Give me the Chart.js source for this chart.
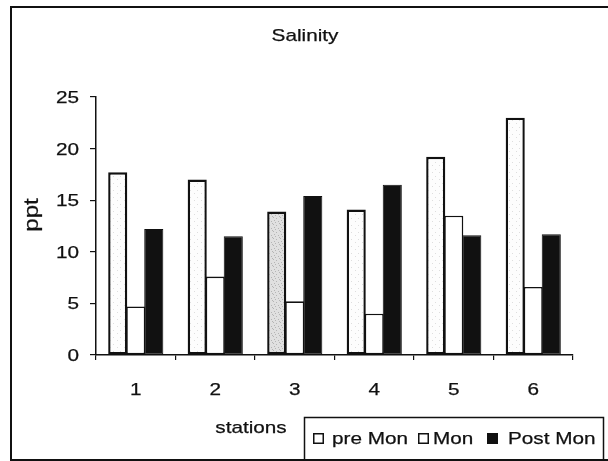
<!DOCTYPE html>
<html>
<head>
<meta charset="utf-8">
<script src="https://cdn.jsdelivr.net/npm/chart.js@4/dist/chart.umd.min.js"></script>
<style>
  html, body { margin: 0; padding: 0; background: #fff; }
  #wrap { width: 608px; height: 461px; position: relative; }
</style>
</head>
<body>
<div id="wrap"><canvas id="c" width="608" height="461"></canvas></div>
<script>
// Salinity (ppt) per station, three seasons
const stations = ['1', '2', '3', '4', '5', '6'];
const seriesNames = ['pre Mon', 'Mon', 'Post Mon'];
const preMon = [17.7, 17.0, 13.9, 14.1, 19.2, 23.0];
const mon = [4.7, 7.6, 5.2, 4.0, 13.5, 6.6];
const postMon = [12.2, 11.5, 15.4, 16.5, 11.6, 11.7];
const chartTitle = 'Salinity';
const xTitle = 'stations';
const yTitle = 'ppt';

const FACE = '"Liberation Sans", Arial, sans-serif';
const FONT = '17px ' + FACE;
const STRETCH = 1.22;
const INK = '#111';

// Speckled fills for the pre-monsoon bars
function speckle(bg, dot, dots) {
  const p = document.createElement('canvas');
  p.width = 7; p.height = 7;
  const g = p.getContext('2d');
  g.fillStyle = bg; g.fillRect(0, 0, 7, 7);
  g.fillStyle = dot;
  dots.forEach(([x, y]) => g.fillRect(x, y, 1, 1));
  return g.createPattern(p, 'repeat');
}
const lightFill = speckle('#fdfdfd', '#dedede', [[1, 1], [5, 4]]);
const greyFill = speckle('#e0e0e0', '#b5b5b5', [[0, 0], [3, 1], [1, 3], [5, 4], [2, 5], [6, 6]]);
const preFills = stations.map((s, i) => (i === 2 ? greyFill : lightFill));

// text drawn slightly wide and with a faint outline, like the printed labels
function stretchedText(ctx, text, x, y, align, font, sx, rot) {
  ctx.save();
  ctx.translate(x, y);
  if (rot) ctx.rotate(rot);
  ctx.scale(sx || STRETCH, 1);
  ctx.font = font || FONT;
  ctx.fillStyle = INK;
  ctx.strokeStyle = INK;
  ctx.lineWidth = 0.25;
  ctx.textAlign = align;
  ctx.textBaseline = 'alphabetic';
  ctx.fillText(text, 0, 0);
  ctx.strokeText(text, 0, 0);
  ctx.restore();
}

const decor = {
  id: 'decor',
  beforeDraw(chart) {
    const c = chart.ctx;
    c.save();
    c.fillStyle = '#fff';
    c.fillRect(0, 0, chart.width, chart.height);
    c.restore();
  },
  afterDraw(chart) {
    const c = chart.ctx;
    const xs = chart.scales.x, ys = chart.scales.y;

    // outer frame (right side runs past the canvas edge)
    c.save();
    c.strokeStyle = INK;
    c.lineWidth = 2;
    c.strokeRect(11, 7, 602, 453);
    c.restore();

    // tick labels
    xs.ticks.forEach((t, i) => {
      stretchedText(c, String(xs.getLabelForValue(t.value)), xs.getPixelForTick(i), 395, 'center');
    });
    ys.ticks.forEach((t) => {
      stretchedText(c, String(t.value), 79, ys.getPixelForValue(t.value) + 6, 'right');
    });

    // titles
    stretchedText(c, chartTitle, 305, 41, 'center');
    stretchedText(c, xTitle, 251, 433, 'center');
    stretchedText(c, yTitle, 38, 215, 'center', '20px ' + FACE, 1.2, -Math.PI / 2);

    // legend
    c.save();
    c.strokeStyle = INK;
    c.lineWidth = 1.5;
    c.strokeRect(304.5, 417.5, 299, 43);
    const boxX = [313, 418, 487];
    const textX = [332, 433, 508];
    chart.data.datasets.forEach((ds, i) => {
      c.fillStyle = i === 2 ? INK : '#fff';
      c.fillRect(boxX[i], 433, 11, 11);
      c.strokeStyle = INK;
      c.lineWidth = 1.5;
      c.strokeRect(boxX[i] + 0.75, 433.75, 9.5, 9.5);
      stretchedText(c, ds.label, textX[i], 444, 'left');
    });
    c.restore();
  }
};

new Chart(document.getElementById('c'), {
  type: 'bar',
  data: {
    labels: stations,
    datasets: [
      { label: seriesNames[0], data: preMon, backgroundColor: preFills, borderColor: INK, borderWidth: 2.4, borderSkipped: false },
      { label: seriesNames[1], data: mon, backgroundColor: '#fff', borderColor: INK, borderWidth: 1.6, borderSkipped: false },
      { label: seriesNames[2], data: postMon, backgroundColor: INK, borderColor: INK, borderWidth: 1, borderSkipped: false }
    ]
  },
  options: {
    responsive: false,
    animation: false,
    devicePixelRatio: 1,
    layout: { padding: { top: 97, right: 35, bottom: 0, left: 0 } },
    datasets: { bar: { categoryPercentage: 0.68, barPercentage: 1.06 } },
    plugins: { legend: { display: false }, title: { display: false }, tooltip: { enabled: false } },
    scales: {
      x: {
        afterFit(s) { s.height = 106; },
        border: { display: true, color: INK, width: 1.5 },
        grid: { display: true, drawOnChartArea: false, drawTicks: true, tickLength: 5, color: INK, lineWidth: 1.2, offset: true },
        ticks: { display: false }
      },
      y: {
        min: 0, max: 25,
        afterFit(s) { s.width = 96; },
        border: { display: true, color: INK, width: 1.5 },
        grid: { display: true, drawOnChartArea: false, drawTicks: true, tickLength: 6, color: INK, lineWidth: 1.2 },
        ticks: { display: false, stepSize: 5 }
      }
    }
  },
  plugins: [decor]
});
</script>
</body>
</html>
